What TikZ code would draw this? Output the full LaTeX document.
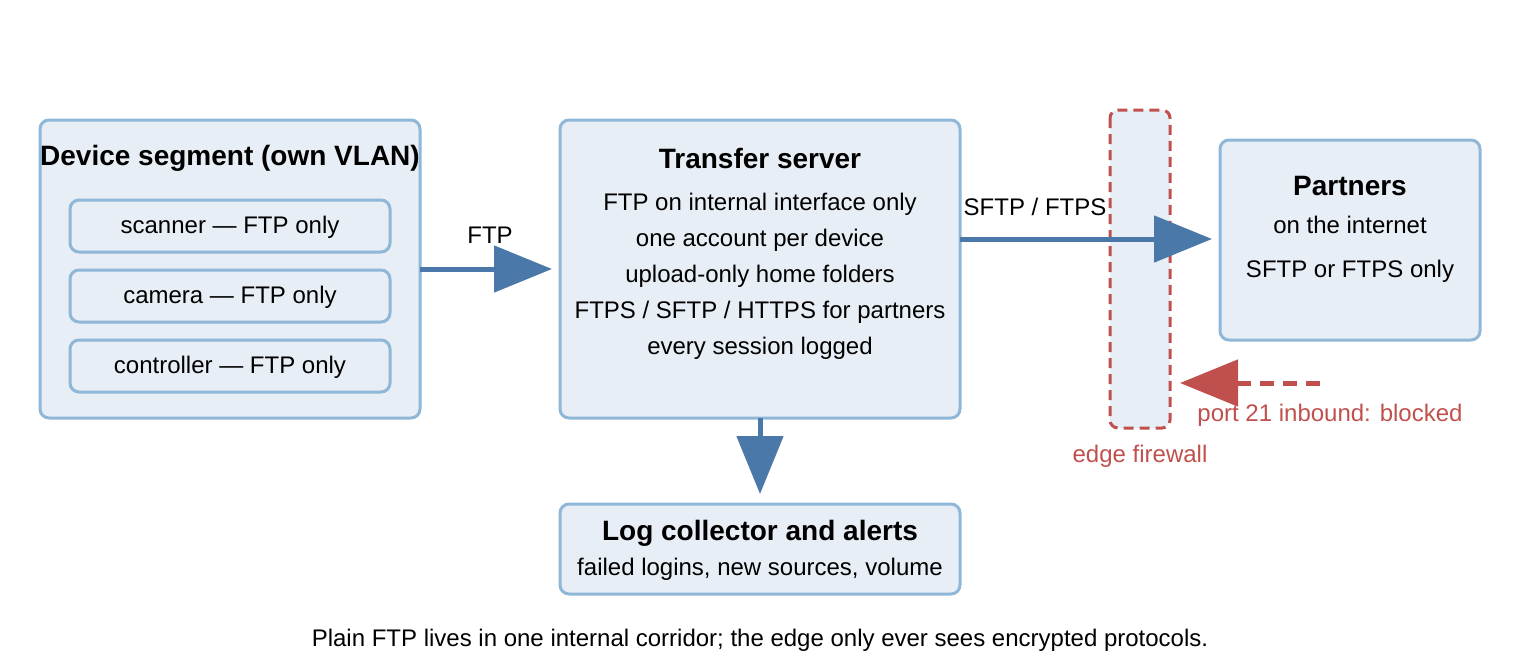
\documentclass[tikz,border=0pt]{standalone}
\usepackage{fontspec}
\setmainfont{Liberation Sans}
\usetikzlibrary{arrows.meta}
\definecolor{bfill}{HTML}{E8EEF5}
\definecolor{bline}{HTML}{8FB8D8}
\definecolor{arr}{HTML}{4A78A8}
\definecolor{red}{HTML}{C0504D}
\begin{document}
\begin{tikzpicture}[x=1pt,y=-1pt,
  box/.style={draw=bline,fill=bfill,line width=3pt,rounded corners=9pt},
  txt/.style={font=\fontsize{24}{36}\selectfont,align=center},
  ttl/.style={font=\fontsize{28}{32}\selectfont\bfseries},
  flow/.style={draw=arr,line width=5pt,-{Triangle[length=58pt,width=46pt]}},
  blocked/.style={draw=red,line width=5pt,dash pattern=on 14pt off 9pt,-{Triangle[length=58pt,width=46pt]}}]
\useasboundingbox (0,0) rectangle (1520,670);
\draw[box] (40,120) rectangle (420,418);
\node[ttl] (devt) at (230,158) {Device segment (own VLAN)};
\draw[box] (70,200) rectangle (390,252); \node[txt] (s) at (230,227) {scanner — FTP only};
\draw[box] (70,270) rectangle (390,322); \node[txt] (c) at (230,297) {camera — FTP only};
\draw[box] (70,340) rectangle (390,392); \node[txt] (k) at (230,367) {controller — FTP only};
\coordinate (devR) at (420,269);
\draw[box] (560,120) rectangle (960,418);
\node[ttl] (ts) at (760,158) {Transfer server};
\node[txt] (tst) at (760,276) {FTP on internal interface only\\one account per device\\upload-only home folders\\FTPS / SFTP / HTTPS for partners\\every session logged};
\coordinate (tsL) at (552,269);
\coordinate (tsR) at (960,239);
\coordinate (tsB) at (760,418);
\draw[box] (560,504) rectangle (960,594);
\node[ttl] (lc) at (760,533) {Log collector and alerts};
\node[txt] (lct) at (760,569) {failed logins, new sources, volume};
\coordinate (lcT) at (760,494);
\draw[red,line width=3pt,fill=bfill,dash pattern=on 10pt off 6pt,rounded corners=8pt] (1110,110) rectangle (1170,428);
\node[txt,text=red] (ef) at (1140,456) {edge firewall};
\draw[box] (1220,140) rectangle (1480,340);
\node[ttl] (p) at (1350,186) {Partners};
\node[txt] (pt) at (1350,249) {on the internet\\[8pt]SFTP or FTPS only};
\coordinate (pL) at (1212,239);
\draw[flow] (devR) -- (tsL);
\node[txt] (ftp) at (490,235) {FTP};
\draw[flow] (tsR) -- (pL);
\node[txt] (sf) at (1035,207) {SFTP / FTPS};
\draw[flow] (tsB) -- (lcT);
\coordinate (r1) at (1320,383); \coordinate (r2) at (1180,383);
\draw[blocked] (r1) -- (r2);
\node[txt,text=red] (pb) at (1330,415) {port 21 inbound: blocked};
\node[txt] (cap) at (760,640) {Plain FTP lives in one internal corridor; the edge only ever sees encrypted protocols.};
\end{tikzpicture}
\end{document}
